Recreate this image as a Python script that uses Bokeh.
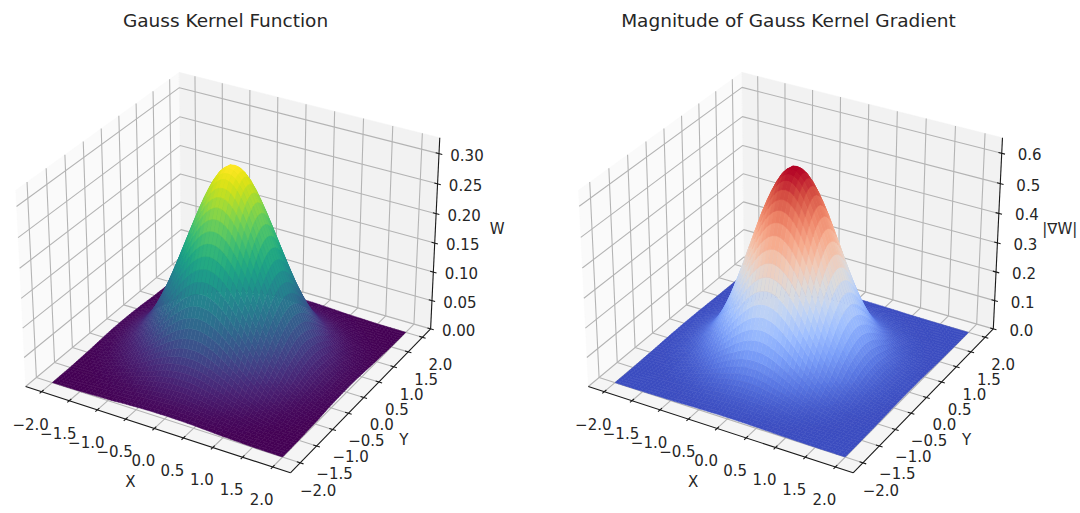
import numpy as np
from bokeh.embed import file_html
from bokeh.resources import INLINE
from bokeh.plotting import figure
from bokeh.layouts import row
from bokeh.models import Range1d, ColumnDataSource, LinearColorMapper
from bokeh.palettes import Viridis256
from bokeh.core.properties import value

titles = ["Gauss Kernel Function", "Magnitude of Gauss Kernel Gradient"]
z_names = ["W", "|∇W|"]
xy_ticks = [-2.0, -1.5, -1.0, -0.5, 0.0, 0.5, 1.0, 1.5, 2.0]
xy_labels = ["−2.0", "−1.5", "−1.0", "−0.5", "0.0", "0.5", "1.0", "1.5", "2.0"]
w_ticks = [0.0, 0.05, 0.10, 0.15, 0.20, 0.25, 0.30]
w_labels = ["0.00", "0.05", "0.10", "0.15", "0.20", "0.25", "0.30"]
g_ticks = [0.0, 0.1, 0.2, 0.3, 0.4, 0.5, 0.6]
g_labels = ["0.0", "0.1", "0.2", "0.3", "0.4", "0.5", "0.6"]

# radial profiles
radius = [0.0, 0.1, 0.2, 0.3, 0.4, 0.5, 0.6, 0.7, 0.8, 0.9, 1.0, 1.1, 1.2, 1.3, 1.4,
          1.5, 1.6, 1.7, 1.8, 1.9, 2.0, 2.2, 2.5, 2.9]
kernel_w = [0.322, 0.319, 0.309, 0.293, 0.272, 0.248, 0.222, 0.195, 0.168, 0.142, 0.117,
            0.095, 0.075, 0.058, 0.045, 0.033, 0.0245, 0.0177, 0.0125, 0.0086, 0.0058,
            0.0025, 0.0006, 0.0001]
kernel_grad = [0.640, 0.633, 0.612, 0.578, 0.534, 0.483, 0.425, 0.365, 0.305, 0.248, 0.195,
               0.150, 0.112, 0.082, 0.058, 0.041, 0.028, 0.019, 0.012, 0.008, 0.005,
               0.002, 0.0005, 0.0001]
grid_x = np.linspace(-2.0, 2.0, 61)

coolwarm_stops = ["#3b4cc0", "#5977e3", "#7b9ff9", "#9ebeff", "#c0d4f5", "#dddcdc",
                  "#f2cbb7", "#f7ac8e", "#ee8468", "#d65244", "#b40426"]


def ramp(stops, n=256):
    rgb = np.array([[int(s[i:i + 2], 16) for i in (1, 3, 5)] for s in stops], float)
    t = np.linspace(0, 1, n)
    k = np.linspace(0, 1, len(stops))
    ch = [np.interp(t, k, rgb[:, i]) for i in range(3)]
    return ["#%02x%02x%02x" % (int(r), int(g), int(b)) for r, g, b in zip(*ch)]


coolwarm = ramp(coolwarm_stops)

# view geometry of a default 3-D box, elev 30, azim -60
EDGE = 2.2917
HALF_XY, HALF_Z = 0.62, 0.46
elev, azim = np.radians(30), np.radians(-60)
N = np.array([np.cos(elev) * np.cos(azim), np.cos(elev) * np.sin(azim), np.sin(elev)])
U = np.array([-np.sin(azim), np.cos(azim), 0.0])
V = np.cross(N, U)
SCALE_X, SCALE_Y = 244.5, 243.0
ORIGIN_Y = 262.0
PAGE_H = 513


def to_box(x, y, z, ztop):
    x, y, z = np.asarray(x, float), np.asarray(y, float), np.asarray(z, float)
    return (x / EDGE * HALF_XY, y / EDGE * HALF_XY, (z / ztop - 0.5) * 2 * HALF_Z)


def project(x, y, z, ztop):
    X, Y, Z = to_box(x, y, z, ztop)
    d = X * N[0] + Y * N[1] + Z * N[2]
    s = 10.0 / (10.0 - d)
    return (X * U[0] + Y * U[1]) * s, (X * V[0] + Y * V[1] + Z * V[2]) * s, d


def panel(frame_l, frame_r, origin_x, title, title_px, zname, zname_off, zt, ztl, ztop, prof, palette):
    xr = Range1d((frame_l - origin_x) / SCALE_X, (frame_r - origin_x) / SCALE_X)
    yr = Range1d((ORIGIN_Y - PAGE_H) / SCALE_Y, ORIGIN_Y / SCALE_Y)
    p = figure(width=frame_r - frame_l, height=PAGE_H, x_range=xr, y_range=yr,
               x_axis_type=None, y_axis_type=None, output_backend="svg",
               toolbar_location=None, tools="", min_border=0,
               background_fill_color="white", border_fill_color="white")
    p.outline_line_color = None
    p.grid.visible = False

    def pts(seq):
        a = np.array(seq, float)
        u, v, _ = project(a[:, 0], a[:, 1], a[:, 2], ztop)
        return u.tolist(), v.tolist()

    e = EDGE
    panes = [([(-e, -e, 0), (e, -e, 0), (e, e, 0), (-e, e, 0)], "#f5f5f5"),
             ([(-e, -e, 0), (-e, e, 0), (-e, e, ztop), (-e, -e, ztop)], "#fafafa"),
             ([(-e, e, 0), (e, e, 0), (e, e, ztop), (-e, e, ztop)], "#f2f2f2")]
    for poly, col in panes:
        a, b = pts(poly)
        p.patch(a, b, fill_color=col, line_color=col, line_width=0.5)

    gx, gy = [], []
    for t in xy_ticks:
        a, b = pts([(t, -e, 0), (t, e, 0), (t, e, ztop)])
        gx.append(a); gy.append(b)
        a, b = pts([(e, t, 0), (-e, t, 0), (-e, t, ztop)])
        gx.append(a); gy.append(b)
    for t in zt:
        a, b = pts([(-e, -e, t), (-e, e, t), (e, e, t)])
        gx.append(a); gy.append(b)
    p.multi_line(gx, gy, line_color="#b4b4b4", line_width=1.1)

    # surface
    gxx, gyy = np.meshgrid(grid_x, grid_x)
    gzz = np.interp(np.hypot(gxx, gyy), radius, prof)
    pu, pv, pd = project(gxx, gyy, gzz, ztop)
    xs, ys, zs, ds = [], [], [], []
    n = len(grid_x)
    for i in range(n - 1):
        for j in range(n - 1):
            ii = [i, i, i + 1, i + 1]
            jj = [j, j + 1, j + 1, j]
            xs.append(pu[ii, jj].tolist())
            ys.append(pv[ii, jj].tolist())
            zs.append(float(gzz[ii, jj].mean()))
            ds.append(float(pd[ii, jj].mean()))
    order = np.argsort(ds)
    src = ColumnDataSource(dict(xs=[xs[k] for k in order], ys=[ys[k] for k in order],
                                z=[zs[k] for k in order]))
    mapper = LinearColorMapper(palette=palette, low=min(zs), high=max(zs))
    p.patches("xs", "ys", source=src,
              fill_color={"field": "z", "transform": mapper},
              line_color={"field": "z", "transform": mapper}, line_width=0.5)

    # axis lines
    ax_x, ax_y = [], []
    for seg in [[(-e, -e, 0), (e, -e, 0)], [(e, -e, 0), (e, e, 0)], [(e, e, 0), (e, e, ztop)]]:
        a, b = pts(seg)
        ax_x.append(a); ax_y.append(b)
    # ticks
    d = 0.055
    for t in xy_ticks:
        a, b = pts([(t, -e - d, 0), (t, -e + d, 0)])
        ax_x.append(a); ax_y.append(b)
        a, b = pts([(e + d, t, 0), (e - d, t, 0)])
        ax_x.append(a); ax_y.append(b)
    for t in zt:
        a, b = pts([(e + d, e, t), (e - d, e, t)])
        ax_x.append(a); ax_y.append(b)
    p.multi_line(ax_x, ax_y, line_color="#1a1a1a", line_width=1.1)

    font = value("DejaVu Sans")
    tc = "#262626"

    def labels(xv, yv, zv, texts, dx, dy, size="15px"):
        u, v, _ = project(np.array(xv), np.array(yv), np.array(zv), ztop)
        p.text(u.tolist(), v.tolist(), text=texts, x_offset=dx, y_offset=dy,
               text_font=font, text_font_size=size, text_color=tc,
               text_align="center", text_baseline="middle")

    m = len(xy_ticks)
    labels(xy_ticks, [-e] * m, [0] * m, xy_labels, -11, 32)
    labels([e] * m, xy_ticks, [0] * m, xy_labels, 18, 27)
    labels([e] * len(zt), [e] * len(zt), zt, ztl, 28, 1)
    labels([0], [-e], [0], ["X"], -24, 54)
    labels([e], [0], [0], ["Y"], 40, 43)
    labels([e], [e], [ztop / 2], [zname], zname_off, -6)

    # title, placed in the panel's own coordinates
    tu = (title_px - origin_x) / SCALE_X
    tv = (ORIGIN_Y - 20) / SCALE_Y
    p.text([tu], [tv], text=[title], text_font=font, text_font_size="18.5px", text_color=tc,
           text_align="center", text_baseline="middle")
    return p


left = panel(0, 540, 231.5, titles[0], 225, z_names[0], 62, w_ticks, w_labels, 0.326, kernel_w, Viridis256)
right = panel(540, 1080, 794.2, titles[1], 788, z_names[1], 62, g_ticks, g_labels, 0.651, kernel_grad, coolwarm)

page = row(left, right, spacing=0)
open("out.html", "w").write(file_html(page, INLINE))
